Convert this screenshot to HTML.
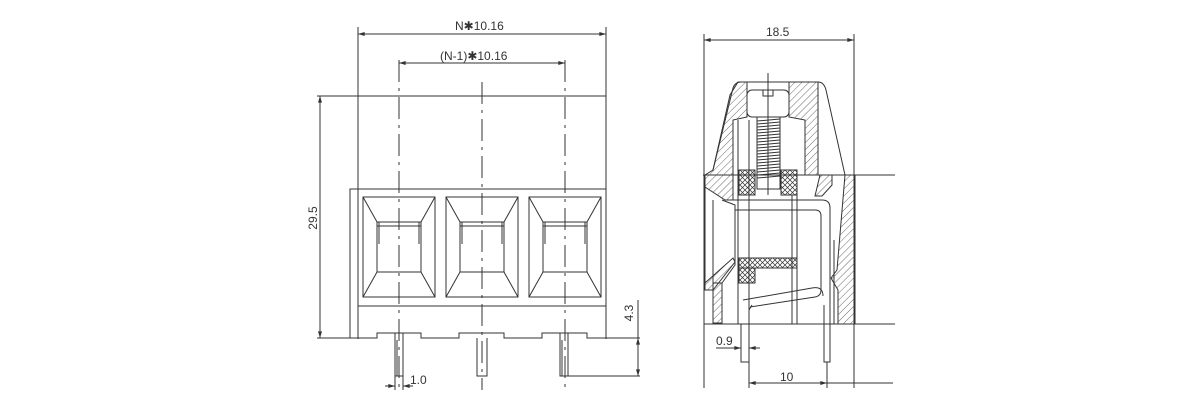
<!DOCTYPE html>
<html><head><meta charset="utf-8"><style>
html,body{margin:0;padding:0;background:#fff;}
svg{display:block;}
text{font-family:"Liberation Sans","DejaVu Sans",sans-serif;fill:#333;font-size:12px;}
</style></head><body>
<svg width="1200" height="413" viewBox="0 0 1200 413" xmlns="http://www.w3.org/2000/svg">
<defs>
<pattern id="h" width="5" height="5" patternUnits="userSpaceOnUse" patternTransform="rotate(45)">
<line x1="0" y1="0" x2="0" y2="5" stroke="#444" stroke-width="0.8"/></pattern>
<pattern id="x" width="5" height="5" patternUnits="userSpaceOnUse">
<path d="M0 0L5 5M5 0L0 5" stroke="#333" stroke-width="0.7"/></pattern>
<marker id="a" viewBox="0 0 10 6" refX="10" refY="3" markerWidth="8" markerHeight="4" orient="auto-start-reverse"><path d="M0 0L10 3L0 6z" fill="#333"/></marker>
</defs>
<g stroke="#333" stroke-width="1" fill="none">
<line x1="358" y1="27" x2="358" y2="339"/>
<line x1="606" y1="27" x2="606" y2="339"/>
<line x1="358" y1="34" x2="606" y2="34" marker-start="url(#a)" marker-end="url(#a)"/>
<line x1="399" y1="63" x2="565" y2="63" marker-start="url(#a)" marker-end="url(#a)"/>
<line x1="317" y1="96" x2="606" y2="96"/>
<line x1="320" y1="96" x2="320" y2="338" marker-start="url(#a)" marker-end="url(#a)"/>
<path d="M350 338V189H606"/>
<line x1="358" y1="306" x2="606" y2="306"/>
<path d="M317 338H377V333H421V338H459V333H504V338H542V333H587V338H640"/>
<g stroke-dasharray="22 6 3 6">
<line x1="399" y1="60" x2="399" y2="390"/>
<line x1="482" y1="82" x2="482" y2="390"/>
<line x1="565" y1="60" x2="565" y2="390"/>
</g>
<g id="w">
<rect x="363" y="197" width="72" height="100"/>
<rect x="377" y="222" width="44" height="50"/>
<line x1="377" y1="226" x2="421" y2="226"/>
<line x1="379" y1="222" x2="379" y2="244"/><line x1="419" y1="222" x2="419" y2="244"/>
<line x1="363" y1="197" x2="377" y2="222"/><line x1="435" y1="197" x2="421" y2="222"/>
<line x1="363" y1="297" x2="377" y2="272"/><line x1="435" y1="297" x2="421" y2="272"/>
</g>
<use href="#w" x="83"/><use href="#w" x="166"/>
<path d="M395 333V376H403V333"/><path d="M397 340V376"/>
<path d="M477 338V376H487V338"/>
<path d="M560 333V376H568V333"/><path d="M562 340V376"/>
<line x1="568" y1="376" x2="640" y2="376"/>
<line x1="638" y1="300" x2="638" y2="376" marker-end="url(#a)"/>
<line x1="638" y1="338" x2="638" y2="376" marker-start="url(#a)"/>
<line x1="385" y1="386" x2="395" y2="386" marker-end="url(#a)"/>
<line x1="413" y1="386" x2="403" y2="386" marker-end="url(#a)"/>
<line x1="395" y1="376" x2="395" y2="390"/><line x1="403" y1="376" x2="403" y2="390"/>
<line x1="704" y1="34" x2="704" y2="388"/>
<line x1="854" y1="34" x2="854" y2="388"/>
<line x1="704" y1="40" x2="854" y2="40" marker-start="url(#a)" marker-end="url(#a)"/>
<line x1="703" y1="175" x2="895" y2="175"/>
<line x1="704" y1="324" x2="895" y2="324"/>
<path d="M713 170L733 88Q735 82 741 82H818Q824 82 826 90L845 175"/>
<path d="M738 82L747 82L747 117L733 120L733 200L725 200L705 187L705 175L713 170L730 95Z" fill="url(#h)"/>
<path d="M789 82L818 82L818 175L805 175L805 120L789 117Z" fill="url(#h)"/>
<path d="M845 175L855 175L855 324L838 324L838 290L831 278L837 270Z" fill="url(#h)"/>
<path d="M820 175L832 175L832 185L822 196L815 196Z" fill="url(#h)"/>
<path d="M713 283L722 283L722 323L713 323Z" fill="url(#h)"/>
<path d="M705 283L705 290L713 290L735 262L733 258Z" fill="url(#h)"/>
<path d="M705 187V283"/><path d="M713 200V283"/>
<path d="M722 200L735 205V265L722 283"/>
<rect x="747" y="90" width="42" height="27" rx="5"/>
<path d="M763 90V96H773V90"/>
<line x1="768" y1="73" x2="768" y2="195"/>
<rect x="757" y="117" width="23" height="72"/>
<path d="M757 121L780 119M757 124L780 122M757 127L780 125M757 130L780 128M757 133L780 131M757 136L780 134M757 139L780 137M757 142L780 140M757 145L780 143M757 148L780 146M757 151L780 149M757 154L780 152M757 157L780 155M757 160L780 158M757 163L780 161M757 166L780 164M757 169L780 167M757 172L780 170M757 175L780 173M757 178L780 176" stroke-width="1"/>
<rect x="739" y="170" width="16" height="25" fill="url(#x)"/>
<rect x="781" y="170" width="16" height="25" fill="url(#x)"/>
<rect x="739" y="258" width="58" height="10" fill="url(#x)"/>
<rect x="739" y="268" width="16" height="15" fill="url(#x)"/>
<line x1="738" y1="120" x2="738" y2="324"/>
<line x1="749" y1="120" x2="749" y2="324"/>
<line x1="792" y1="195" x2="792" y2="324"/>
<line x1="797" y1="195" x2="797" y2="324"/>
<line x1="830" y1="220" x2="830" y2="324"/>
<line x1="834" y1="240" x2="834" y2="324"/>
<path d="M733 200H822Q830 200 830 208V300"/>
<path d="M735 210H815Q821 210 821 216V290Q821 296 815 297L750 307"/>
<path d="M743 300L812 288Q823 286 823 296"/>
<path d="M741 324V362H749V310L752 305"/>
<path d="M824 305V362H830V324"/>
<line x1="749" y1="362" x2="749" y2="388"/>
<line x1="827" y1="362" x2="827" y2="388"/>
<line x1="749" y1="383" x2="827" y2="383" marker-start="url(#a)" marker-end="url(#a)"/>
<line x1="827" y1="383" x2="893" y2="383"/>
<line x1="716" y1="348" x2="741" y2="348" marker-end="url(#a)"/>
<line x1="760" y1="348" x2="749" y2="348" marker-end="url(#a)"/>
</g>
<text x="455" y="30">N✱10.16</text>
<text x="440" y="60">(N-1)✱10.16</text>
<text x="317" y="218" transform="rotate(-90 317 218)" text-anchor="middle">29.5</text>
<text x="633" y="313" transform="rotate(-90 633 313)" text-anchor="middle">4.3</text>
<text x="410" y="384">1.0</text>
<text x="766" y="36">18.5</text>
<text x="716" y="345">0.9</text>
<text x="780" y="381">10</text>
</svg>
</body></html>
